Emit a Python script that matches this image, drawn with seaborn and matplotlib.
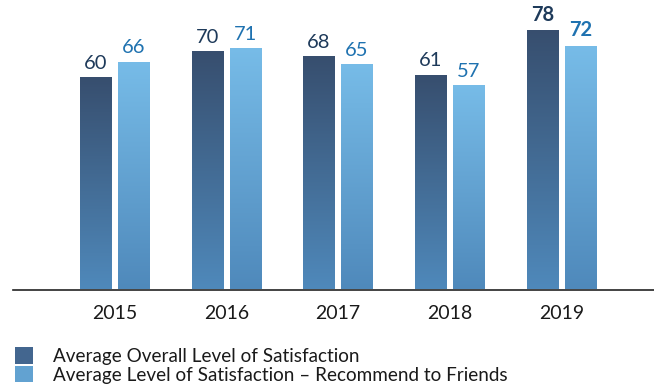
import numpy as np
import pandas as pd
import matplotlib
matplotlib.use("Agg")
import matplotlib.pyplot as plt
from matplotlib.colors import LinearSegmentedColormap
from matplotlib.patches import Patch
import seaborn as sns

years = ["2015", "2016", "2017", "2018", "2019"]
overall = [60, 70, 68, 61, 78]
recommend = [66, 71, 65, 57, 72]
series_names = ["Average Overall Level of Satisfaction",
                "Average Level of Satisfaction \u2013 Recommend to Friends"]

df = pd.DataFrame({
    "year": years * 2,
    "value": overall + recommend,
    "series": [series_names[0]] * len(years) + [series_names[1]] * len(years),
})

sns.set_theme(style="white")
plt.rcParams["font.family"] = ["Lato", "DejaVu Sans"]

fig = plt.figure(figsize=(6.54, 3.87), dpi=100)
ax = fig.add_axes([13 / 654, (387 - 289.5) / 387, 641 / 654, 289.5 / 387])

top_cols = ["#374e6e", "#77bce8"]
bot_col = "#4f89bb"
label_cols = ["#1e3a5a", "#1f72b0"]

sns.barplot(data=df, x="year", y="value", hue="series",
            palette=top_cols, width=0.68, gap=0.18, legend=False, ax=ax)

base = -21
ymax = 89.5
xlim = (-0.909, 4.83)

for ci, cont in enumerate(ax.containers):
    cmap = LinearSegmentedColormap.from_list("g", [bot_col, top_cols[ci]])
    grad = np.linspace(0, 1, 256).reshape(-1, 1)
    for j, p in enumerate(cont.patches):
        v = p.get_height()
        p.set_y(base)
        p.set_height(v - base)
        x0 = p.get_x()
        w = p.get_width()
        im = ax.imshow(grad, extent=[x0, x0 + w, base, v], origin="lower",
                       aspect="auto", cmap=cmap, zorder=2)
        im.set_clip_path(p)
        p.set_facecolor("none")
        p.set_edgecolor("none")
        bold = (j == len(cont.patches) - 1)
        ax.annotate(f"{int(v)}", (x0 + w / 2, v), xytext=(0, 4),
                    textcoords="offset points", ha="center", va="bottom",
                    fontsize=14.5, color=label_cols[ci],
                    fontweight="bold" if bold else "normal")

ax.set_xlim(*xlim)
ax.set_ylim(base, ymax)
ax.set_xlabel("")
ax.set_ylabel("")
ax.set_yticks([])
ax.tick_params(axis="x", length=0, pad=11, labelsize=14, colors="#1a1a1a")
for s in ["top", "right", "left"]:
    ax.spines[s].set_visible(False)
ax.spines["bottom"].set_color("#222222")
ax.spines["bottom"].set_linewidth(1.2)

handles = [Patch(facecolor="#43668f", edgecolor="none"),
           Patch(facecolor="#62a2d1", edgecolor="none")]
fig.legend(handles, series_names, loc="upper left",
           bbox_to_anchor=(6 / 654, 1 - 338 / 387), frameon=False,
           fontsize=13.6, handlelength=0.95, handleheight=0.95,
           handletextpad=1.05, labelspacing=0.05, borderpad=0,
           labelcolor="#1a1a1a")

fig.savefig("out.png", dpi=100)
